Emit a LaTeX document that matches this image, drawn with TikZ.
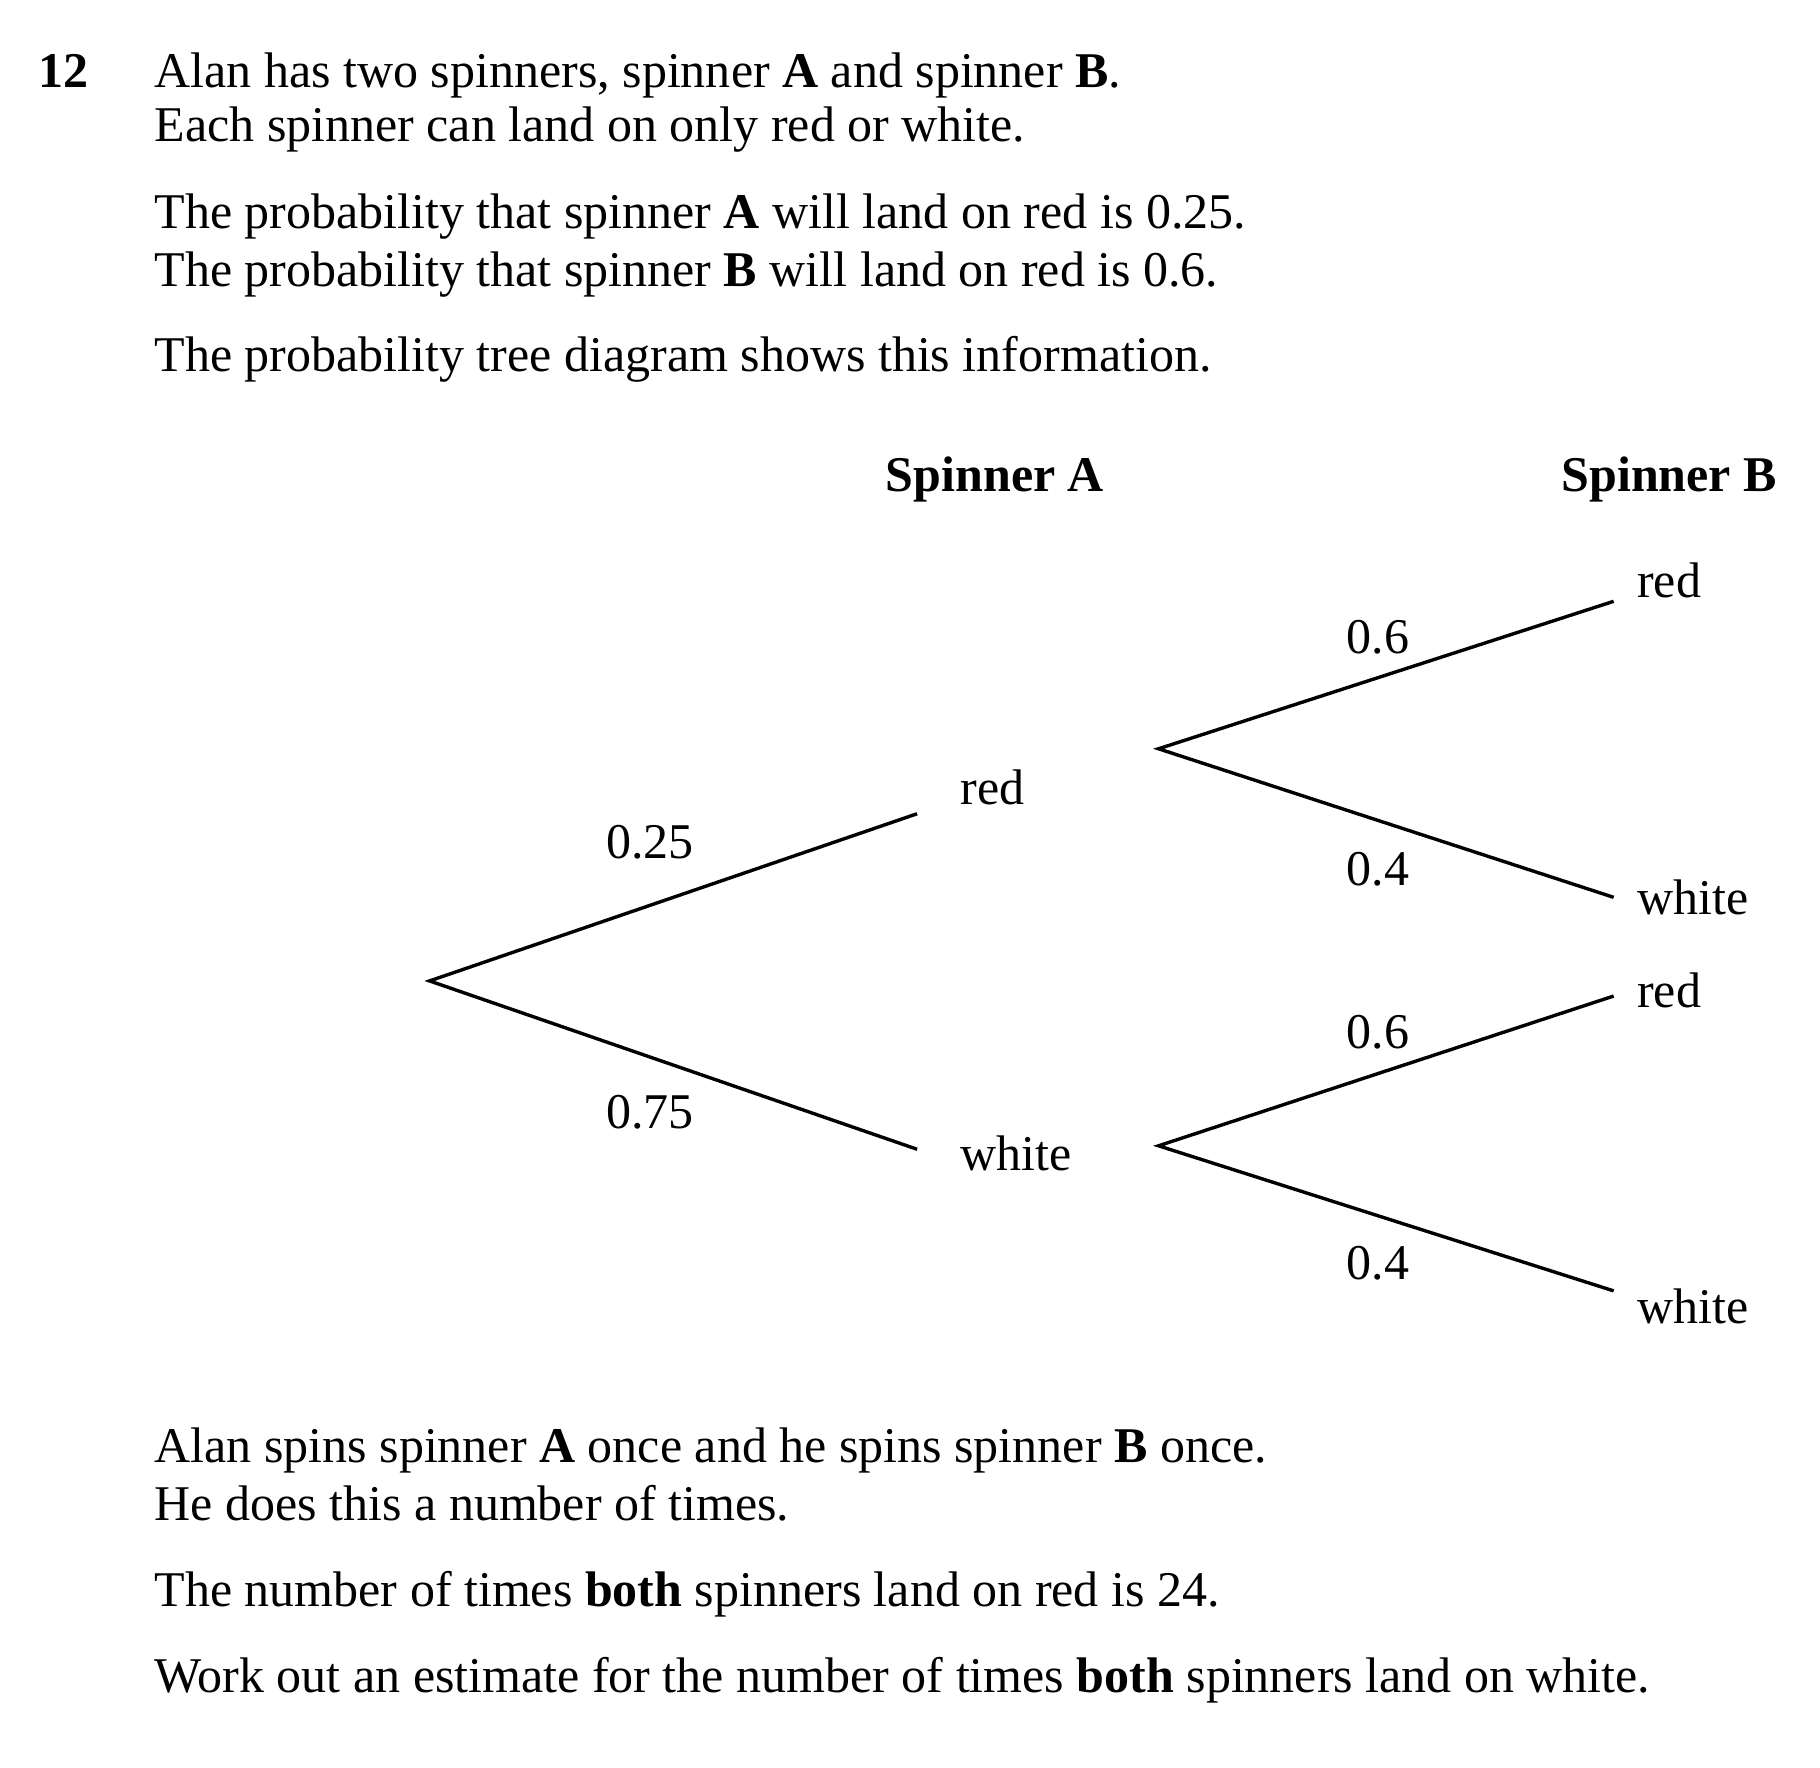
\documentclass[tikz,border=0pt]{standalone}
\usepackage{fontspec}
\setmainfont{Liberation Serif}
\begin{document}
\begin{tikzpicture}[x=0.4975pt,y=-0.4975pt,
  txt/.style={anchor=base west,inner sep=0pt,font=\fontsize{25}{28}\selectfont},
  branch/.style={line width=1.7pt,line cap=butt,line join=miter}]
\fill[white] (0,0) rectangle (1829.1,1775.9);
\useasboundingbox (0,0) rectangle (1829.1,1775.9);
% question text
\node[txt] (qn) at (38,87.5) {\textbf{12}};
\node[txt] (l1) at (155,87.5) {Alan has two spinners, spinner \textbf{A} and spinner \textbf{B}.};
\node[txt] (l2) at (155,142.3) {Each spinner can land on only red or white.};
\node[txt] (l3) at (155,229.8) {The probability that spinner \textbf{A} will land on red is 0.25.};
\node[txt] (l4) at (155,288.2) {The probability that spinner \textbf{B} will land on red is 0.6.};
\node[txt] (l5) at (155,373.3) {The probability tree diagram shows this information.};
% headings
\node[txt] (hA) at (890,493.5) {\textbf{Spinner A}};
\node[txt] (hB) at (1569,493.5) {\textbf{Spinner B}};
% tree points
\coordinate (root) at (431.7,985.8);
\coordinate (ar) at (921.7,817.8);
\coordinate (aw) at (921.7,1155);
\coordinate (f1) at (1164.3,752.5);
\coordinate (f1r) at (1621.7,604.3);
\coordinate (f1w) at (1621.7,901.8);
\coordinate (f2) at (1164.3,1151.5);
\coordinate (f2r) at (1621.7,1001);
\coordinate (f2w) at (1621.7,1297.3);
\draw[branch] (ar) -- (root) -- (aw);
\draw[branch] (f1r) -- (f1) -- (f1w);
\draw[branch] (f2r) -- (f2) -- (f2w);
% outcome labels
\node[txt] (tAr) at (965,808.5) {red};
\node[txt] (tAw) at (965,1176) {white};
\node[txt] (tB1r) at (1645,600.8) {red};
\node[txt] (tB1w) at (1645,919.3) {white};
\node[txt] (tB2r) at (1645,1012.7) {red};
\node[txt] (tB2w) at (1645,1330) {white};
% probabilities
\node[txt] (p25) at (609,863) {0.25};
\node[txt] (p75) at (609,1134) {0.75};
\node[txt] (p16) at (1353,656.8) {0.6};
\node[txt] (p14) at (1353,890) {0.4};
\node[txt] (p26) at (1353,1053.5) {0.6};
\node[txt] (p24) at (1353,1285.7) {0.4};
% closing text
\node[txt] (m1) at (155,1470) {Alan spins spinner \textbf{A} once and he spins spinner \textbf{B} once.};
\node[txt] (m2) at (155,1528) {He does this a number of times.};
\node[txt] (m3) at (155,1614.7) {The number of times \textbf{both} spinners land on red is 24.};
\node[txt] (m4) at (155,1701) {Work out an estimate for the number of times \textbf{both} spinners land on white.};
\end{tikzpicture}
\end{document}
